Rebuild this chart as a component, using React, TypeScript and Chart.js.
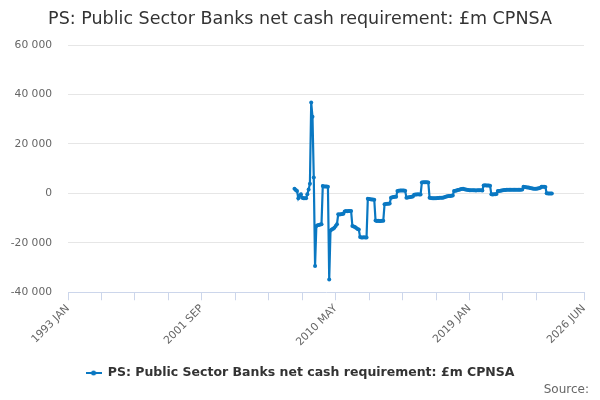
import React, { useEffect, useRef } from 'react';
import { Chart, registerables } from 'chart.js';

Chart.register(...registerables);

// ---- text ----
const TITLE = 'PS: Public Sector Banks net cash requirement: £m CPNSA';
const SERIES_NAME = 'PS: Public Sector Banks net cash requirement: £m CPNSA';
const SOURCE_TEXT = 'Source:';

// ---- categories (monthly, 1993 JAN .. 2026 JUN) ----
const MONTHS = ['JAN', 'FEB', 'MAR', 'APR', 'MAY', 'JUN', 'JUL', 'AUG', 'SEP', 'OCT', 'NOV', 'DEC'];
const AXIS_FIRST = '1993 JAN';
const AXIS_LAST = '2026 JUN';

// ---- x tick labels shown ----
const X_TICK_LABELS = ['1993 JAN', '2001 SEP', '2010 MAY', '2019 JAN', '2026 JUN'];
const X_TICK_MARK_EVERY = 26; // months between tick marks

// ---- y axis ----
const Y_MIN = -40000;
const Y_MAX = 60000;
const Y_STEP = 20000;

// ---- series (monthly, £m) ----
const SERIES_START = '2007 SEP';
const VALUES = [
  // 2007 SEP-DEC
  1900, 1400, 900, -2000,
  // 2008
  -1000, -400, -1750, -2000, -2000, -2000, -400, 1600, 3900, 36700, 31000, 6400,
  // 2009
  -29400, -13200, -12900, -12800, -12600, -12500, 3000, 2800, 2800, 2800, 2700, -34800,
  // 2010
  -15000, -14600, -14300, -13900, -13200, -12500, -8500, -8600, -8500, -8400, -8300, -7300,
  // 2011
  -7150, -7200, -7100, -7100, -7150, -13200, -13400, -13600, -14000, -14400, -14600, -17700,
  // 2012
  -17900, -17900, -17800, -17900, -17900, -2150, -2300, -2400, -2500, -2500, -2600, -11000,
  // 2013
  -11200, -11100, -11200, -11200, -11100, -11100, -4450, -4300, -4200, -4200, -4100, -1750,
  // 2014
  -1600, -1500, -1400, -1400, 900, 1100, 1200, 1200, 1200, 1200, 1100, -1750,
  // 2015
  -1700, -1600, -1500, -1400, -1300, -600, -500, -500, -400, -500, -500, 4400,
  // 2016
  4500, 4500, 4500, 4500, 4400, -1750, -1900, -2000, -2000, -2000, -2000, -1900,
  // 2017
  -1900, -1800, -1800, -1750, -1700, -1500, -1300, -1200, -1100, -1100, -1000, -900,
  // 2018
  1000, 1100, 1200, 1400, 1500, 1700, 1800, 1900, 1700, 1600, 1500, 1400,
  // 2019
  1300, 1300, 1300, 1300, 1300, 1200, 1300, 1300, 1300, 1300, 1200, 3200,
  // 2020
  3300, 3200, 3200, 3200, 3100, -400, -500, -400, -400, -300, 900, 1000,
  // 2021
  1100, 1200, 1300, 1400, 1400, 1500, 1500, 1500, 1500, 1500, 1500, 1500,
  // 2022
  1500, 1500, 1500, 1500, 1500, 1600, 2700, 2600, 2500, 2400, 2400, 2200,
  // 2023
  2100, 2000, 1900, 1900, 1900, 2000, 2100, 2300, 2700, 2700, 2700, 2600,
  // 2024 JAN-MAY
  0, -100, -100, -100, -100,
];

// ---- styles ----
const LINE_COLOR = '#0a78c2';
const FONT = "'DejaVu Sans', sans-serif";

function buildCategories(): string[] {
  const [fy, fm] = AXIS_FIRST.split(' ');
  const [ly, lm] = AXIS_LAST.split(' ');
  const out: string[] = [];
  let y = Number(fy);
  let m = MONTHS.indexOf(fm);
  while (y < Number(ly) || (y === Number(ly) && m <= MONTHS.indexOf(lm))) {
    out.push(`${y} ${MONTHS[m]}`);
    m += 1;
    if (m === 12) { m = 0; y += 1; }
  }
  return out;
}

function fmt(n: number): string {
  const s = Math.abs(n).toString().replace(/\B(?=(\d{3})+(?!\d))/g, ' ');
  return (n < 0 ? '-' : '') + s;
}

export default function App() {
  const ref = useRef<HTMLCanvasElement>(null);

  useEffect(() => {
    const canvas = ref.current;
    if (!canvas) return;
    const categories = buildCategories();
    const startIdx = categories.indexOf(SERIES_START);
    const data = categories.map((_, i) => {
      const k = i - startIdx;
      return k >= 0 && k < VALUES.length ? VALUES[k] : null;
    });
    const lastIdx = categories.length - 1;
    const tickIdx: number[] = [];
    for (let i = 0; i < lastIdx - X_TICK_MARK_EVERY / 2; i += X_TICK_MARK_EVERY) tickIdx.push(i);
    tickIdx.push(lastIdx);

    const icon = document.createElement('canvas');
    icon.width = 16;
    icon.height = 8;
    const ic = icon.getContext('2d')!;
    ic.strokeStyle = LINE_COLOR;
    ic.lineWidth = 2;
    ic.beginPath();
    ic.moveTo(0, 4);
    ic.lineTo(16, 4);
    ic.stroke();
    ic.fillStyle = LINE_COLOR;
    ic.beginPath();
    ic.arc(8, 4, 2.5, 0, Math.PI * 2);
    ic.fill();

    const sourcePlugin = {
      id: 'sourceText',
      afterDraw(chart: Chart) {
        const ctx = chart.ctx;
        ctx.save();
        ctx.font = `12px ${FONT}`;
        ctx.fillStyle = '#666666';
        ctx.textAlign = 'right';
        ctx.textBaseline = 'middle';
        ctx.fillText(SOURCE_TEXT, 589, 390);
        ctx.restore();
      },
    };

    const chart = new Chart(canvas, {
      type: 'line',
      data: {
        labels: categories,
        datasets: [
          {
            label: SERIES_NAME,
            data,
            borderColor: LINE_COLOR,
            backgroundColor: LINE_COLOR,
            borderWidth: 2.2,
            pointRadius: 2,
            pointHoverRadius: 3,
            pointBorderWidth: 0,
            spanGaps: false,
            tension: 0,
          },
        ],
      },
      options: {
        animation: false,
        responsive: false,
        devicePixelRatio: 1,
        layout: { padding: { top: 0, left: 0, right: 0, bottom: 10.75 } },
        plugins: {
          title: {
            display: true,
            text: TITLE,
            color: '#333333',
            font: { family: FONT, size: 17.5, weight: 'normal' },
            padding: { top: 8.5, bottom: 15.5 },
          },
          legend: {
            display: true,
            position: 'bottom',
            labels: {
              color: '#333333',
              font: { family: FONT, size: 12.5, weight: 'bold' },
              usePointStyle: true,
              pointStyle: icon as any,
              pointStyleWidth: 16,
              padding: 10,
            },
          },
          tooltip: { enabled: false },
        },
        scales: {
          x: {
            type: 'category',
            offset: false,
            afterBuildTicks: (s: any) => {
              s.ticks = tickIdx.map((v) => ({ value: v }));
            },
            afterFit: (s: any) => {
              s.height = 64.5;
              s.paddingRight = 16;
            },
            grid: { drawOnChartArea: false, color: '#ccd6eb', tickLength: 8 },
            border: { display: true, color: '#ccd6eb', width: 1 },
            ticks: {
              autoSkip: false,
              minRotation: 45,
              maxRotation: 45,
              color: '#666666',
              font: { family: FONT, size: 10.7 },
              padding: 2,
              callback: function (this: any, value: any) {
                const lab = categories[Number(value)];
                return X_TICK_LABELS.includes(lab) ? lab : '';
              },
            },
          },
          y: {
            min: Y_MIN,
            max: Y_MAX,
            afterFit: (s: any) => {
              s.width = 68;
            },
            grid: {
              drawTicks: false,
              color: (c: any) => (c.tick && c.tick.value === Y_MIN ? 'rgba(0,0,0,0)' : '#e6e6e6'),
            },
            border: { display: false },
            ticks: {
              stepSize: Y_STEP,
              padding: 16,
              color: '#666666',
              font: { family: FONT, size: 10.7 },
              callback: (v: any) => fmt(Number(v)),
            },
          },
        },
      },
      plugins: [sourcePlugin],
    });

    return () => chart.destroy();
  }, []);

  return (
    <div style={{ position: 'fixed', left: 0, top: 0, width: 600, height: 400, background: '#ffffff' }}>
      <canvas ref={ref} width={600} height={400} style={{ display: 'block' }} />
    </div>
  );
}
